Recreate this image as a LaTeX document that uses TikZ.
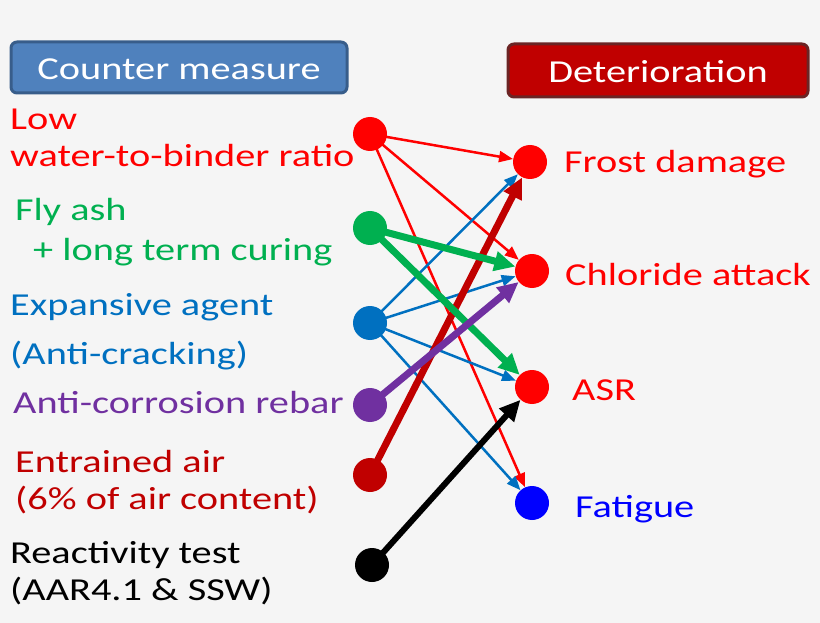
\documentclass[tikz,border=0pt]{standalone}
\usepackage{fontspec}
\usepackage{graphicx}
\setmainfont{Carlito}
\usetikzlibrary{arrows.meta}
\pgfdeclarelayer{background}
\pgfsetlayers{background,main}
\definecolor{bgc}{HTML}{F5F5F5}
\definecolor{cred}{HTML}{FF0000}
\definecolor{cgreen}{HTML}{00B050}
\definecolor{cblue}{HTML}{0070C0}
\definecolor{cpurple}{HTML}{7030A0}
\definecolor{cdred}{HTML}{C00000}
\definecolor{cfat}{HTML}{0000FF}
\definecolor{hblue}{HTML}{4F81BD}
\definecolor{hblueb}{HTML}{385D8A}
\definecolor{hredb}{HTML}{6B2424}
\newcommand{\wtxt}[1]{\scalebox{1.26}[1]{#1}}
\tikzset{
  dot/.style={circle,fill=#1,draw=none,minimum size=34pt,inner sep=0pt},
  lbl/.style={anchor=base west,inner sep=0pt,font=\fontsize{32}{37}\selectfont,text=#1},
  hdr/.style={rounded corners=6pt,line width=3pt},
  thin/.style={line width=2.5pt,draw=#1,-{Triangle[length=14pt,width=11pt]}},
  thick/.style={line width=7pt,draw=#1,-{Triangle[length=21pt,width=19pt]}},
}
\begin{document}
\begin{tikzpicture}[x=1pt,y=-1pt]
\begin{pgfonlayer}{background}
\fill[bgc] (0,0) rectangle (820,623);
\end{pgfonlayer}
\useasboundingbox (0,0) rectangle (820,623);
% headers
\draw[hdr,fill=hblue,draw=hblueb] (11,42) rectangle (347,93);
\node[anchor=base,inner sep=0pt,text=white,font=\fontsize{32}{37}\selectfont] (hcm) at (179,80) {\wtxt{Counter measure}};
\draw[hdr,fill=cdred,draw=hredb] (508,44) rectangle (808,97);
\node[anchor=base,inner sep=0pt,text=white,font=\fontsize{32}{37}\selectfont] (hdt) at (658,83) {\wtxt{Deterioration}};
% left labels
\node[lbl=cred] (t1a) at (10,130) {\wtxt{Low}};
\node[lbl=cred] (t1b) at (10,167) {\wtxt{water-to-binder ratio}};
\node[lbl=cgreen] (t2a) at (15,221) {\wtxt{Fly ash}};
\node[lbl=cgreen] (t2b) at (33,260) {\wtxt{+ long term curing}};
\node[lbl=cblue] (t3a) at (10,315) {\wtxt{Expansive agent}};
\node[lbl=cblue] (t3b) at (10,364) {\wtxt{(Anti-cracking)}};
\node[lbl=cpurple] (t4) at (13,413) {\wtxt{Anti-corrosion rebar}};
\node[lbl=cdred] (t5a) at (15,472) {\wtxt{Entrained air}};
\node[lbl=cdred] (t5b) at (15,509) {\wtxt{(6\% of air content)}};
\node[lbl=black] (t6a) at (10,563) {\wtxt{Reactivity test}};
\node[lbl=black] (t6b) at (10,600) {\wtxt{(AAR4.1 \& SSW)}};
% right labels
\node[lbl=cred] (r1t) at (564,173) {\wtxt{Frost damage}};
\node[lbl=cred] (r2t) at (565,285) {\wtxt{Chloride attack}};
\node[lbl=cred] (r3t) at (572,400) {\wtxt{ASR}};
\node[lbl=cfat] (r4t) at (575,517) {\wtxt{Fatigue}};
% dots
\node[dot=cred] (L1) at (370,134) {};
\node[dot=cgreen] (L2) at (370,228) {};
\node[dot=cblue] (L3) at (370,323) {};
\node[dot=cpurple] (L4) at (370,405) {};
\node[dot=cdred] (L5) at (370,475) {};
\node[dot=black] (L6) at (372,565) {};
\node[dot=cred] (R1) at (530,162) {};
\node[dot=cred] (R2) at (532,271) {};
\node[dot=cred] (R3) at (532,387) {};
\node[dot=cfat] (R4) at (532,503) {};
% connectors
\begin{pgfonlayer}{background}
\draw[thin=cred] (L1.center) -- (R1);
\draw[thin=cred] (L1.center) -- (R2);
\draw[thin=cred] (L1.center) -- (R4);
\draw[thin=cblue] (L3.center) -- (R1);
\draw[thin=cblue] (L3.center) -- (R2);
\draw[thin=cblue] (L3.center) -- (R3);
\draw[thin=cblue] (L3.center) -- (R4);
\draw[thick=cdred] (L5.center) -- (R1);
\draw[thick=cgreen] (L2.center) -- (R2);
\draw[thick=cgreen] (L2.center) -- (R3);
\draw[thick=cpurple] (L4.center) -- (R2);
\draw[line width=6pt,draw=black,-{Triangle[length=21pt,width=19pt]}] (L6.center) -- (R3);
\end{pgfonlayer}
\end{tikzpicture}
\end{document}
